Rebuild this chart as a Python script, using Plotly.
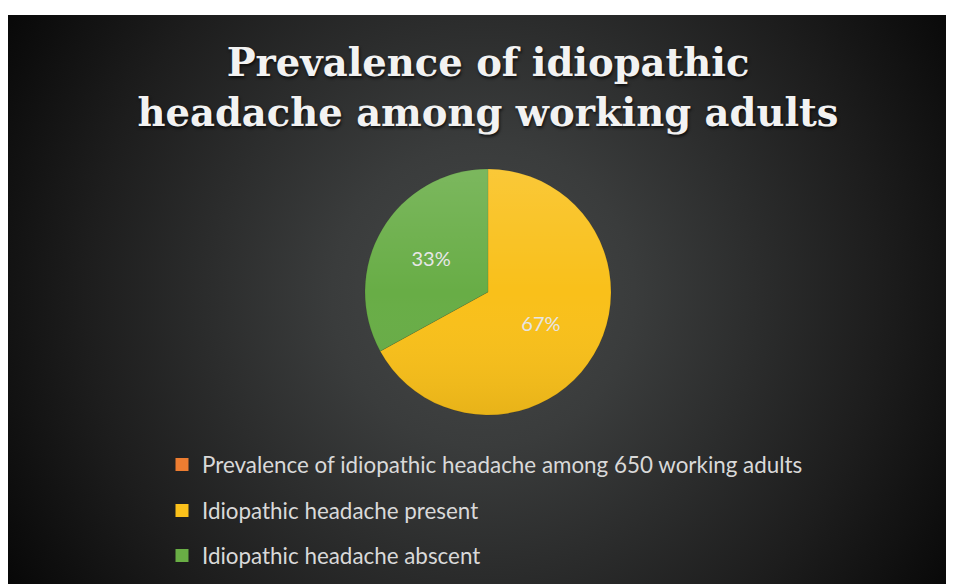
import base64
import plotly.graph_objects as go

# ---- data ----
title_text = "Prevalence of idiopathic<br>headache among working adults"
legend_labels = [
    "Prevalence of idiopathic headache among 650 working adults",
    "Idiopathic headache present",
    "Idiopathic headache abscent",
]
legend_colors = ["#ED7D31", "#FBC11B", "#69AE45"]
pie_labels = ["Idiopathic headache present", "Idiopathic headache abscent"]
pie_values = [67, 33]
pie_colors = ["#F9C01A", "#68AD46"]

W, H = 954, 584
OFF = 8  # page body margin: screen = figure + 8


def svg_uri(svg):
    return "data:image/svg+xml;base64," + base64.b64encode(svg.encode()).decode()


# radial gradient background (style only)
bg_src = svg_uri("""<svg xmlns='http://www.w3.org/2000/svg' width='954' height='577' viewBox='0 0 954 577' preserveAspectRatio='none'>
<defs><radialGradient id='g' gradientUnits='userSpaceOnUse' cx='475' cy='280' r='560'>
<stop offset='0' stop-color='#464848'/>
<stop offset='0.27' stop-color='#3a3c3c'/>
<stop offset='0.71' stop-color='#1d1d1d'/>
<stop offset='1' stop-color='#070707'/>
</radialGradient></defs>
<rect x='0' y='0' width='954' height='577' fill='url(#g)'/></svg>""")

# subtle vertical shading over the pie (style only)
shade_src = svg_uri("""<svg xmlns='http://www.w3.org/2000/svg' width='246' height='246' viewBox='0 0 246 246'>
<defs><linearGradient id='s' x1='0' y1='0' x2='0' y2='1'>
<stop offset='0' stop-color='#ffffff' stop-opacity='0.13'/>
<stop offset='0.5' stop-color='#ffffff' stop-opacity='0'/>
<stop offset='1' stop-color='#000000' stop-opacity='0.07'/>
</linearGradient></defs>
<circle cx='123' cy='123' r='123' fill='url(#s)'/></svg>""")

fig = go.Figure()

cx, cy, r = 488 - OFF, 292 - OFF, 123
dom_x = [(cx - r) / W, (cx + r) / W]
dom_y = [(H - cy - r) / H, (H - cy + r) / H]
fig.add_trace(go.Pie(
    labels=pie_labels,
    values=pie_values,
    sort=False,
    direction="clockwise",
    rotation=0,
    marker=dict(colors=pie_colors, line=dict(color="rgba(0,0,0,0.15)", width=0.6)),
    texttemplate="%{percent:.0%}",
    textposition="inside",
    insidetextorientation="horizontal",
    textfont=dict(family="Lato", size=20, color="#E6E6E6"),
    showlegend=False,
    hoverinfo="label+value+percent",
    domain=dict(x=dom_x, y=dom_y),
))

row_y = [466 - OFF - 1, 512 - OFF - 1, 557 - OFF - 1]
legend_names = ["legend", "legend2", "legend3"]
for lab, col, ln in zip(legend_labels, legend_colors, legend_names):
    fig.add_trace(go.Scatter(
        x=[None], y=[None], mode="markers", name=lab,
        marker=dict(symbol="square", size=13, color=col),
        legend=ln, hoverinfo="skip",
    ))

legend_common = dict(
    font=dict(family="Lato", size=22.4, color="#D9D9D9"),
    bgcolor="rgba(0,0,0,0)", borderwidth=0,
    xanchor="left", yanchor="middle", x=(189 - 25 - OFF - 2) / W,
)
layout_legends = {}
for ln, yy in zip(legend_names, row_y):
    layout_legends[ln] = dict(legend_common, y=1 - yy / H)

fig.update_layout(
    width=W, height=H,
    margin=dict(l=0, r=0, t=0, b=0),
    paper_bgcolor="white",
    plot_bgcolor="rgba(0,0,0,0)",
    xaxis=dict(visible=False),
    yaxis=dict(visible=False),
    title=dict(
        text=title_text,
        x=(488 - OFF) / W, xanchor="center",
        y=1 - 68 / H, yanchor="middle",
        font=dict(family="DejaVu Serif", size=38.5, color="#F2F2F2", weight="bold",
                  shadow="1px 2px 3px rgba(0,0,0,0.7)"),
    ),
    images=[
        dict(source=bg_src, xref="paper", yref="paper",
             x=0, y=1 - 7 / H, sizex=1, sizey=(H - 7) / H,
             xanchor="left", yanchor="top", sizing="stretch", layer="below"),
        dict(source=shade_src, xref="paper", yref="paper",
             x=dom_x[0], y=dom_y[1], sizex=dom_x[1] - dom_x[0], sizey=dom_y[1] - dom_y[0],
             xanchor="left", yanchor="top", sizing="stretch", layer="above"),
    ],
    **layout_legends,
)

fig.write_html("out.html")
